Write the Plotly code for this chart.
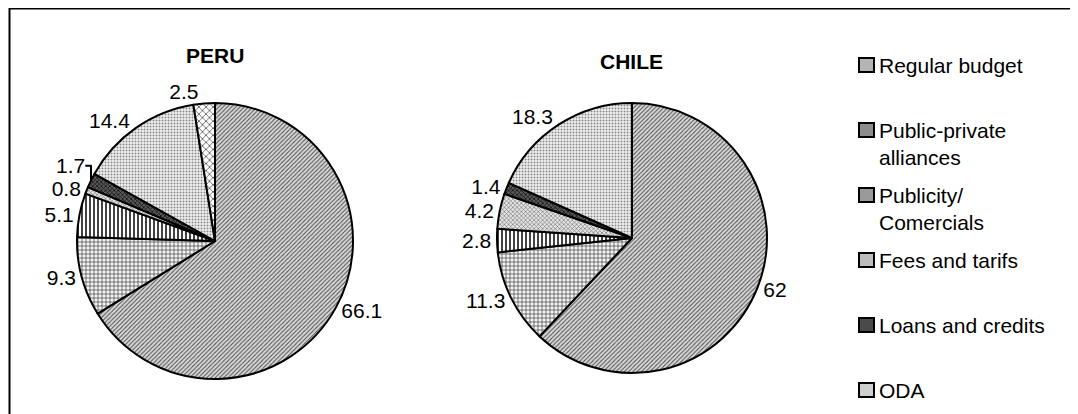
import plotly.graph_objects as go

# Page body has an 8px default margin; the figure is sized to fill the rest.
OFF = 8
W, H = 1078 - OFF, 414 - OFF

categories = ["Regular budget", "Public-private alliances", "Publicity/ Comercials",
              "Fees and tarifs", "Loans and credits", "ODA", "Other"]
legend_labels = ["Regular budget", "Public-private<br>alliances", "Publicity/<br>Comercials",
                 "Fees and tarifs", "Loans and credits", "ODA"]
peru_values = [66.1, 9.3, 5.1, 0.8, 1.7, 14.4, 2.5]
chile_values = [62, 11.3, 2.8, 4.2, 1.4, 18.3]

# styles per category
bg_colors = ["#dadada", "#f4f4f4", "#ffffff", "#e4e4e4", "#5a5a5a", "#f2f2f2", "#ffffff"]
fg_colors = ["#555555", "#333333", "#111111", "#6a6a6a", "#111111", "#8a8a8a", "#333333"]
shapes_p = ["/", "+", "|", "x", "x", ".", "x"]
sizes_p = [3, 4, 4, 3, 3, 3, 5]
solid_p = [0.35, 0.3, 0.4, 0.35, 0.45, 0.35, 0.25]
swatch_colors = ["#b4b4b4", "#8c8c8c", "#9a9a9a", "#bdbdbd", "#4a4a4a", "#cfcfcf"]

FONT = "Liberation Sans, Arial, sans-serif"


def px_x(x):
    return (x - OFF) / W


def px_y(y):
    return 1 - (y - OFF) / H


def make_pie(values, cx, cy, r, name):
    n = len(values)
    return go.Pie(
        labels=categories[:n], values=values, name=name,
        sort=False, direction="clockwise", rotation=0,
        textinfo="value", textposition="outside",
        texttemplate="%{value}",
        textfont=dict(family=FONT, size=21, color="black"),
        marker=dict(
            colors=bg_colors[:n],
            line=dict(color="black", width=2),
            pattern=dict(shape=shapes_p[:n], fgcolor=fg_colors[:n], bgcolor=bg_colors[:n],
                         size=sizes_p[:n], solidity=solid_p[:n], fillmode="replace"),
        ),
        domain=dict(x=[px_x(cx - r), px_x(cx + r)], y=[px_y(cy + r), px_y(cy - r)]),
        showlegend=False, hoverinfo="label+value",
    )


fig = go.Figure()
fig.add_trace(make_pie(peru_values, 215, 241, 138, "PERU"))
fig.add_trace(make_pie(chile_values, 632, 238, 135, "CHILE"))

annotations = [
    dict(text="<b>PERU</b>", x=px_x(215), y=px_y(55), xref="paper", yref="paper",
         showarrow=False, font=dict(family=FONT, size=21, color="black"), xanchor="center", yanchor="middle"),
    dict(text="<b>CHILE</b>", x=px_x(631), y=px_y(62), xref="paper", yref="paper",
         showarrow=False, font=dict(family=FONT, size=21, color="black"), xanchor="center", yanchor="middle"),
]
shapes = [
    dict(type="line", xref="paper", yref="paper", x0=px_x(9), x1=1.01, y0=px_y(8.5), y1=px_y(8.5),
         line=dict(color="black", width=2)),
    dict(type="line", xref="paper", yref="paper", x0=px_x(9.5), x1=px_x(9.5), y0=px_y(8), y1=-0.01,
         line=dict(color="black", width=2)),
]

legend_rows = [65, 130, 195, 260, 325, 390]
for lbl, col, yy in zip(legend_labels, swatch_colors, legend_rows):
    shapes.append(dict(type="rect", xref="paper", yref="paper",
                       x0=px_x(859), x1=px_x(874), y0=px_y(yy + 7), y1=px_y(yy - 7),
                       fillcolor=col, line=dict(color="black", width=2)))
    annotations.append(dict(text=lbl, x=px_x(877), y=px_y(yy - 13), xref="paper", yref="paper",
                            showarrow=False, xanchor="left", yanchor="top", align="left",
                            font=dict(family=FONT, size=21, color="black")))

fig.update_layout(
    width=W, height=H,
    margin=dict(l=0, r=0, t=0, b=0),
    paper_bgcolor="white", plot_bgcolor="white",
    annotations=annotations, shapes=shapes,
    showlegend=False,
)

fig.write_html("out.html")
